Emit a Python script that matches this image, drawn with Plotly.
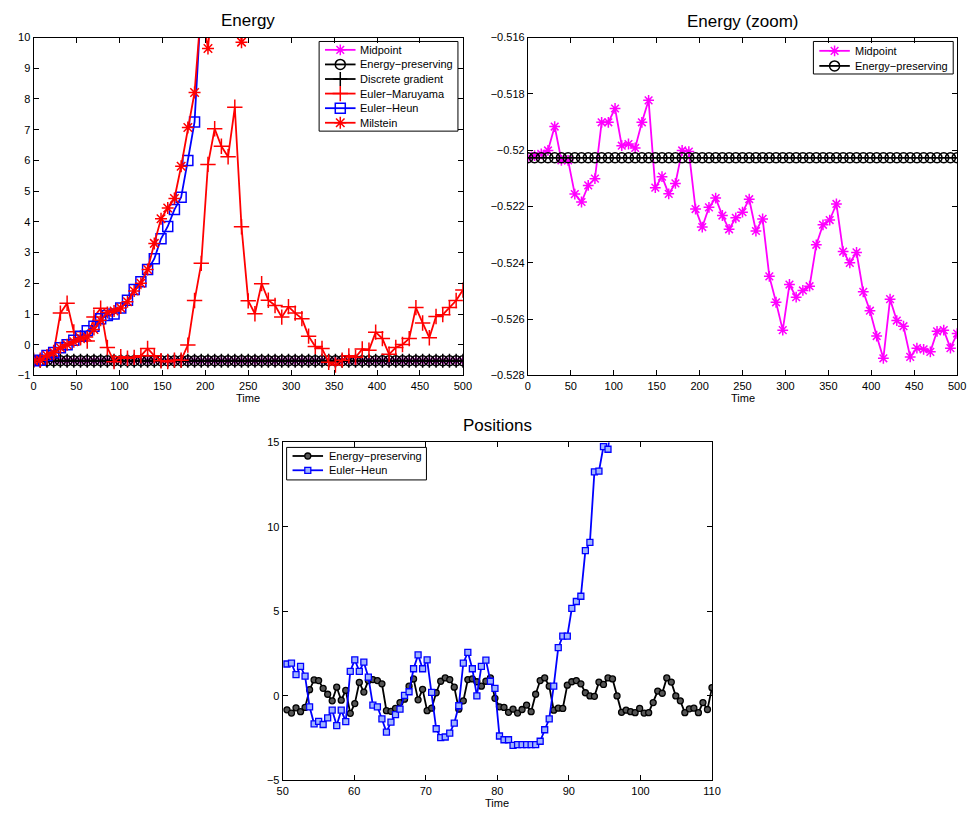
import plotly.graph_objects as go

# ---------------- data ----------------
energy_time = [500 * i / 64 for i in range(65)]

midpoint = [-0.52027, -0.52019, -0.52013, -0.52001, -0.51916, -0.52036, -0.52036, -0.52156,
            -0.52184, -0.52125, -0.52101, -0.51901, -0.51901, -0.51852, -0.51984, -0.51978,
            -0.51992, -0.51901, -0.51823, -0.52133, -0.52094, -0.52155, -0.52118, -0.52001,
            -0.52005, -0.52209, -0.52273, -0.52203, -0.52170, -0.52232,
            -0.52281, -0.52240, -0.52220, -0.52174, -0.52287, -0.52244, -0.52448, -0.52540,
            -0.52639, -0.52477, -0.52522, -0.52498, -0.52483, -0.52336, -0.52265, -0.52248,
            -0.52191, -0.52360, -0.52400, -0.52363, -0.52503, -0.52570, -0.52660, -0.52739,
            -0.52529, -0.52605, -0.52625, -0.52734, -0.52703, -0.52707, -0.52716, -0.52643,
            -0.52639, -0.52703, -0.52651]

energy_preserving = [-0.52027] * 65
discrete_gradient = [-0.52027] * 65

euler_maruyama = [-0.50, -0.50, -0.40, -0.25, 1.03, 1.35, 0.42, 0.23, 0.12, 0.90, 1.19, -0.09,
                  -0.55, -0.39, -0.44, -0.41, -0.36, -0.12, -0.36, -0.52, -0.55, -0.50, -0.50,
                  -0.01, 1.44, 2.65, 5.87, 7.03, 6.46, 6.12, 7.73,
                  3.84, 1.43, 1.01, 1.99, 1.45, 1.28, 0.90, 1.24, 1.03, 0.85, 0.28, -0.06, -0.12,
                  -0.57, -0.66, -0.50, -0.36, -0.41, -0.14, -0.18, 0.41, 0.20, -0.31, -0.09,
                  0.01, 0.20, 1.21, 0.71, 0.23, 0.92, 0.98, 1.21, 1.44, 1.78]

euler_heun = [-0.52, -0.50, -0.35, -0.25, -0.10, 0.00, 0.15, 0.28, 0.46, 0.60, 0.85, 0.95,
              1.00, 1.20, 1.45, 1.80, 2.05, 2.45, 2.80, 3.45, 3.85, 4.40, 4.80, 6.00, 7.25,
              11.2, 20.0, 40.0]

milstein = [-0.52, -0.50, -0.35, -0.25, -0.10, 0.00, 0.10, 0.20, 0.25, 0.50, 0.80, 1.05,
            1.10, 1.20, 1.40, 1.75, 2.00, 2.45, 3.30, 4.10, 4.45, 4.76, 5.81, 7.07, 8.21,
            11.0, 9.64, 12.0, 14.0, 16.0, 13.0, 9.85, 13.0, 18.0]

pos_time = [50.6 + (110 - 50.6) * i / 94 for i in range(95)]

pos_energy_preserving = [-0.82, -1.01, -0.70, -0.93, -0.68, 0.37, 0.95, 0.91, 0.45, 0.10, -0.29,
                         0.52, -0.25, 0.33, -1.03, -0.45, 0.80, 0.23, 0.91, 0.97, 0.91, 0.72,
                         -0.87, -0.91, -0.74, -0.39, -0.19, 0.58, 1.01, -0.23, 0.39, -0.87,
                         -0.72, 0.19, 0.87, 1.07, 0.97, 0.52, -0.78, -0.29, 0.97, 1.01, 0.84,
                         0.58, 0.87, 1.07, -0.14, -0.64, -0.68, -0.97, -0.78, -1.01, -0.80,
                         -0.54, -0.93, 0.10, 0.91, 1.07, 0.58, -0.84, -0.72, -0.74, 0.64, 0.84,
                         0.91, 0.72, 0.19, 0.00, -0.02, 0.82, 0.68, 1.07, 1.01, 0.00, -0.97,
                         -0.84, -0.93, -0.99, -0.74, -1.01, -0.99, -0.39, 0.29, 0.16, 1.07,
                         0.82, 0.00, -0.29, -0.99, -0.76, -0.72, -0.99, -0.39, -0.80, 0.49]

pos_euler_heun = [1.89, 1.94, 1.26, 1.75, 1.17, -0.64, -1.65, -1.50, -1.69, -1.30, -0.84, -1.75,
                  -0.84, -1.52, 1.46, 2.14, 1.46, 2.00, 1.11, -0.54, -0.64, -1.36, -2.14, -1.55,
                  -1.10, -0.78, 0.04, 0.25, 1.61, 2.43, 1.61, 2.14, 0.21, -1.94, -2.47, -2.43,
                  -2.20, -1.61, -0.58, 1.94, 2.58, 1.61, 0.00, 1.75, 2.12, 0.87, 0.45, -2.37,
                  -2.59, -2.59, -2.92, -2.88, -2.88, -2.88, -2.88, -2.88, -2.68, -2.00, -1.36,
                  0.58, 2.86, 3.54, 3.54, 5.18, 5.59, 5.90, 8.60, 9.09, 13.26, 13.30, 14.76,
                  14.60, 16.5, 19.0]

zoom_ticks = [-0.528, -0.526, -0.524, -0.522, -0.520, -0.518, -0.516]
zoom_ticktext = ["\u22120.528", "\u22120.526", "\u22120.524", "\u22120.522", "\u22120.52",
                 "\u22120.518", "\u22120.516"]
pos_yticks = [-5, 0, 5, 10, 15]
pos_yticktext = ["\u22125", "0", "5", "10", "15"]
energy_yticks = list(range(-1, 11))
energy_yticktext = ["\u22121"] + [str(v) for v in range(0, 11)]

# ---------------- styles ----------------
MAG = "#FF00FF"
RED = "#FF0000"
BLUE = "#0000FF"
BLK = "#000000"
LW = 1.8
FONT = "Liberation Sans, Arial, sans-serif"

W, H = 976, 817


def px_x(p):
    return p / W


def px_y(p):
    return 1 - p / H


fig = go.Figure()

STY = {
    "mid": dict(color=MAG, symbol="asterisk-open", size=9, mlw=1.5, fill=None),
    "ep": dict(color=BLK, symbol="circle-open", size=10, mlw=1.5, fill=None),
    "dg": dict(color=BLK, symbol="cross-thin-open", size=10, mlw=1.5, fill=None),
    "em": dict(color=RED, symbol="cross-thin-open", size=11, mlw=1.5, fill=None),
    "eh": dict(color=BLUE, symbol="square-open", size=10, mlw=1.5, fill=None),
    "mil": dict(color=RED, symbol="asterisk-open", size=10, mlw=1.5, fill=None),
    "pep": dict(color=BLK, symbol="circle", size=6, mlw=1.3, fill="#555555"),
    "peh": dict(color=BLUE, symbol="square", size=6, mlw=1.3, fill="#9fb4ff"),
}


def add(x, y, name, key, xa, ya, mode="lines+markers"):
    s = STY[key]
    fig.add_trace(go.Scatter(
        x=x, y=y, name=name, mode=mode,
        line=dict(color=s["color"], width=LW),
        marker=dict(symbol=s["symbol"], size=s["size"], color=s["fill"] if s["fill"] else s["color"],
                    line=dict(color=s["color"], width=s["mlw"])),
        xaxis=xa, yaxis=ya, showlegend=False))


# top-left: Energy
add(energy_time, midpoint, "Midpoint", "mid", "x", "y")
add(energy_time, energy_preserving, "Energy\u2212preserving", "ep", "x", "y")
add(energy_time, discrete_gradient, "Discrete gradient", "dg", "x", "y")
add(energy_time, euler_maruyama, "Euler\u2212Maruyama", "em", "x", "y")
add(energy_time[:len(euler_heun)], euler_heun, "Euler\u2212Heun", "eh", "x", "y")
add(energy_time[:len(milstein)], milstein, "Milstein", "mil", "x", "y")

# top-right: Energy (zoom)
add(energy_time, midpoint, "Midpoint", "mid", "x2", "y2")
add(energy_time, energy_preserving, "Energy\u2212preserving", "ep", "x2", "y2")

# bottom: Positions
add(pos_time, pos_energy_preserving, "Energy\u2212preserving", "pep", "x3", "y3")
add(pos_time[:len(pos_euler_heun)], pos_euler_heun, "Euler\u2212Heun", "peh", "x3", "y3")

# ---------------- legends (drawn in a page-pixel overlay axis) ----------------
legends = [
    ((318, 36, 459, 127), 324, 355, 358,
     [("Midpoint", "mid"), ("Energy\u2212preserving", "ep"), ("Discrete gradient", "dg"),
      ("Euler\u2212Maruyama", "em"), ("Euler\u2212Heun", "eh"), ("Milstein", "mil")], 44.5, 14.8),
    ((820, 36, 962, 69), 826, 857, 860,
     [("Midpoint", "mid"), ("Energy\u2212preserving", "ep")], 45.5, 15.3),
    ((285, 448, 427, 481), 291, 322, 326,
     [("Energy\u2212preserving", "pep"), ("Euler\u2212Heun", "peh")], 456.7, 14.5),
]

for box, lx0, lx1, tx, entries, y0, dy in legends:
    fig.add_shape(type="rect", xref="paper", yref="paper",
                  x0=px_x(box[0]), x1=px_x(box[2]), y0=px_y(box[3]), y1=px_y(box[1]),
                  line=dict(color=BLK, width=1), fillcolor="rgba(0,0,0,0)", layer="above")
    for i, (label, key) in enumerate(entries):
        yy = y0 + i * dy
        s = STY[key]
        fig.add_trace(go.Scatter(x=[lx0, lx1], y=[yy, yy], mode="lines",
                                 line=dict(color=s["color"], width=LW),
                                 xaxis="x4", yaxis="y4", showlegend=False, hoverinfo="skip"))
        fig.add_trace(go.Scatter(x=[(lx0 + lx1) / 2], y=[yy], mode="markers",
                                 marker=dict(symbol=s["symbol"], size=s["size"],
                                             color=s["fill"] if s["fill"] else s["color"],
                                             line=dict(color=s["color"], width=s["mlw"])),
                                 xaxis="x4", yaxis="y4", showlegend=False, hoverinfo="skip"))
        fig.add_annotation(text=label, x=px_x(tx), y=px_y(yy), xref="paper", yref="paper",
                           showarrow=False, xanchor="left", yanchor="middle",
                           font=dict(family=FONT, size=11, color=BLK))

axis_common = dict(showline=True, linecolor=BLK, linewidth=1, mirror="ticks", ticks="inside",
                   ticklen=5, tickcolor=BLK, showgrid=False, zeroline=False,
                   tickfont=dict(family=FONT, size=11, color=BLK))

d1x = [px_x(28), px_x(464)]
d2x = [px_x(530), px_x(966)]
dty = [px_y(375), px_y(32)]
d3x = [px_x(281), px_x(717)]
d3y = [px_y(786), px_y(443)]

fig.update_layout(
    width=W, height=H, margin=dict(l=0, r=0, t=0, b=0),
    paper_bgcolor="white", plot_bgcolor="rgba(0,0,0,0)",
    font=dict(family=FONT, size=11, color=BLK),
    showlegend=False,
    xaxis=dict(domain=d1x, range=[0, 500], tickvals=list(range(0, 501, 50)), anchor="y", **axis_common),
    yaxis=dict(domain=dty, range=[-1, 10], tickvals=energy_yticks, ticktext=energy_yticktext,
               anchor="x", **axis_common),
    xaxis2=dict(domain=d2x, range=[0, 500], tickvals=list(range(0, 501, 50)), anchor="y2", **axis_common),
    yaxis2=dict(domain=dty, range=[-0.528, -0.516], tickvals=zoom_ticks, ticktext=zoom_ticktext,
                anchor="x2", **axis_common),
    xaxis3=dict(domain=d3x, range=[50, 110], tickvals=list(range(50, 111, 10)), anchor="y3", **axis_common),
    yaxis3=dict(domain=d3y, range=[-5, 15], tickvals=pos_yticks, ticktext=pos_yticktext,
                anchor="x3", **axis_common),
    xaxis4=dict(domain=[0, 1], range=[0, W], visible=False, fixedrange=True, anchor="y4"),
    yaxis4=dict(domain=[0, 1], range=[H, 0], visible=False, fixedrange=True, anchor="x4"),
)

titles = [("Energy", 246, 15), ("Energy (zoom)", 748, 16), ("Positions", 499, 426)]
for text, cx, cy in titles:
    fig.add_annotation(text=text, x=px_x(cx), y=px_y(cy), xref="paper", yref="paper",
                       showarrow=False, xanchor="center", yanchor="middle",
                       font=dict(family=FONT, size=17, color=BLK))

for cx, cy in [(246, 398), (748, 398), (499, 809)]:
    fig.add_annotation(text="Time", x=px_x(cx), y=px_y(cy), xref="paper", yref="paper",
                       showarrow=False, xanchor="center", yanchor="middle",
                       font=dict(family=FONT, size=11, color=BLK))

fig.write_html("out.html")
